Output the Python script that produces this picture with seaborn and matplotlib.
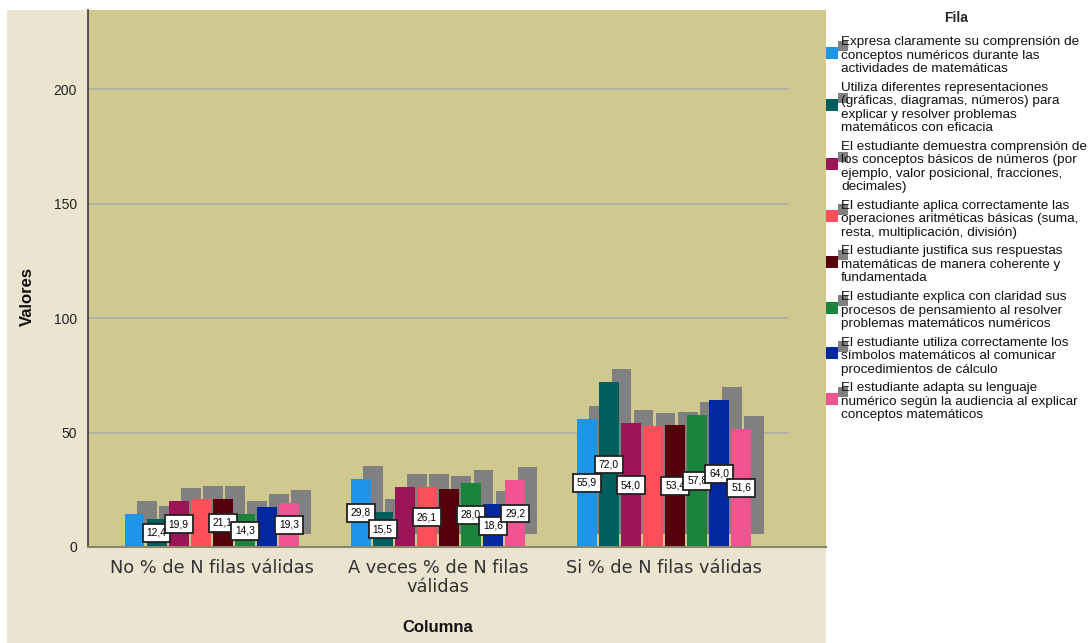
import numpy as np
import pandas as pd
import matplotlib
matplotlib.use("Agg")
import matplotlib.pyplot as plt
import seaborn as sns
from matplotlib.patches import Rectangle
from matplotlib.transforms import ScaledTranslation
from matplotlib.legend_handler import HandlerBase

# ---------------- data ----------------
columns = ["No % de N filas válidas", "A veces % de N filas\nválidas", "Si % de N filas válidas"]
rows = [
    "Expresa claramente su comprensión de\nconceptos numéricos durante las\nactividades de matemáticas",
    "Utiliza diferentes representaciones\n(gráficas, diagramas, números) para\nexplicar y resolver problemas\nmatemáticos con eficacia",
    "El estudiante demuestra comprensión de\nlos conceptos básicos de números (por\nejemplo, valor posicional, fracciones,\ndecimales)",
    "El estudiante aplica correctamente las\noperaciones aritméticas básicas (suma,\nresta, multiplicación, división)",
    "El estudiante justifica sus respuestas\nmatemáticas de manera coherente y\nfundamentada",
    "El estudiante explica con claridad sus\nprocesos de pensamiento al resolver\nproblemas matemáticos numéricos",
    "El estudiante utiliza correctamente los\nsímbolos matemáticos al comunicar\nprocedimientos de cálculo",
    "El estudiante adapta su lenguaje\nnumérico según la audiencia al explicar\nconceptos matemáticos",
]
no_vals = [14.3, 12.4, 19.9, 21.1, 21.1, 14.3, 17.4, 19.3]
aveces_vals = [29.8, 15.5, 26.1, 26.1, 25.5, 28.0, 18.6, 29.2]
si_vals = [55.9, 72.0, 54.0, 52.8, 53.4, 57.8, 64.0, 51.6]
# labels shown in the chart (others hidden by overlap in the original)
no_labeled = [False, True, True, False, True, True, False, True]
aveces_labeled = [True, True, False, True, False, True, True, True]
si_labeled = [True, True, True, False, True, True, True, True]
yticks = [0, 50, 100, 150, 200]

colors = ["#1E95E8", "#005E5C", "#9C1556", "#FF4F5A", "#55000B", "#1C833C", "#0029A0", "#F05592"]
shadow_color = "#808080"

series = [no_vals, aveces_vals, si_vals]
labeled = [no_labeled, aveces_labeled, si_labeled]
records = []
for c, vals, labs in zip(columns, series, labeled):
    for r, v, l in zip(rows, vals, labs):
        records.append({"Columna": c, "Fila": r, "Valores": v, "lab": l})
df = pd.DataFrame(records)

# ---------------- figure ----------------
sns.set_theme(style="white")
plt.rcParams["font.family"] = ["Liberation Sans", "DejaVu Sans"]

W, H = 1091, 643
fig = plt.figure(figsize=(W / 100, H / 100), dpi=100, facecolor="white")
fig.patches.append(Rectangle((7 / W, 0), (826 - 7) / W, (H - 10) / H,
                             transform=fig.transFigure, facecolor="#EBE4D0",
                             edgecolor="none", zorder=-10))
ax = fig.add_axes([88 / W, (H - 547) / H, (826 - 88) / W, (547 - 10) / H])
ax.set_facecolor("#CFC98F")

# shadows
sns.barplot(data=df, x="Columna", y="Valores", hue="Fila", hue_order=rows,
            order=columns, palette=[shadow_color] * len(rows), saturation=1,
            width=0.78, gap=0.1, errorbar=None, legend=False, linewidth=0,
            ax=ax, zorder=1)
shadow_containers = list(ax.containers)
off = ScaledTranslation(0.125, 0.13, fig.dpi_scale_trans)
for cont in shadow_containers:
    for p in cont.patches:
        p.set_transform(ax.transData + off)

# main bars
sns.barplot(data=df, x="Columna", y="Valores", hue="Fila", hue_order=rows,
            order=columns, palette=colors, saturation=1,
            width=0.78, gap=0.1, errorbar=None, legend=False, linewidth=0,
            ax=ax, zorder=2)
bar_containers = list(ax.containers)[len(shadow_containers):]

# value labels in the middle of bars
for ri, cont in enumerate(bar_containers):
    for ci, p in enumerate(cont.patches):
        if not labeled[ci][ri]:
            continue
        v = series[ci][ri]
        ax.text(p.get_x() + p.get_width() / 2, v / 2, f"{v:.1f}".replace(".", ","),
                ha="center", va="center", fontsize=7.4, color="black", zorder=5,
                family=["DejaVu Sans Condensed", "Liberation Sans Narrow", "Liberation Sans"],
                bbox=dict(boxstyle="square,pad=0.38", facecolor="white",
                          edgecolor="#222222", linewidth=1.3))

ax.set_xlim(-0.547, 2.716)
ax.set_ylim(0, 234.5)
ax.set_yticks(yticks)
for y in yticks[1:]:
    ax.axhline(y, xmin=0, xmax=(788 - 88) / (826 - 88), color="#ADADA8", lw=1.2, zorder=0.5)

for s in ["top", "right"]:
    ax.spines[s].set_visible(False)
ax.spines["left"].set_color("#3A3A3A")
ax.spines["left"].set_linewidth(1.2)
ax.spines["bottom"].set_color("#8A866A")
ax.spines["bottom"].set_linewidth(1.5)
ax.tick_params(axis="y", length=0, pad=8, labelsize=10, labelcolor="#222222")
ax.tick_params(axis="x", length=0, pad=8.5, labelsize=12.8, labelcolor="#333333")
for t in ax.get_xticklabels():
    t.set_fontfamily(["DejaVu Sans"])
    t.set_fontsize(12.8)
    t.set_linespacing(1.05)

ax.set_xlabel("Columna", fontsize=12, fontweight="bold", color="#111111")
ax.xaxis.set_label_coords((438 - 88) / (826 - 88), -(628 - 547) / (547 - 10), transform=ax.transAxes)
ax.xaxis.label.set_va("center")
ax.set_ylabel("Valores", fontsize=12, fontweight="bold", color="#111111")
ax.yaxis.set_label_coords(-(88 - 27.5) / (826 - 88), (547 - 296) / (547 - 10), transform=ax.transAxes)
ax.yaxis.label.set_va("center")


# ---------------- legend ----------------
class ShadowHandler(HandlerBase):
    def __init__(self, color):
        super().__init__()
        self.color = color

    def create_artists(self, legend, orig_handle, xdescent, ydescent, width,
                       height, fontsize, trans):
        s = 8.6
        x0 = -xdescent
        y0 = -ydescent + height / 2 - s / 2 + 2
        g = Rectangle((x0 + 8.6, y0 + 5.5), 7.5, 7.5, facecolor=shadow_color,
                      edgecolor="none", transform=trans)
        c = Rectangle((x0, y0), s, s, facecolor=self.color, edgecolor="none",
                      transform=trans)
        return [g, c]


handles = [Rectangle((0, 0), 1, 1, facecolor=c) for c in colors]
handler_map = {h: ShadowHandler(c) for h, c in zip(handles, colors)}
leg = fig.legend(handles, rows, handler_map=handler_map, loc="upper left",
                 bbox_to_anchor=(826 / W, 1 - 11 / H), frameon=False,
                 title="Fila", title_fontproperties={"weight": "bold", "size": 10},
                 fontsize=9.7, handlelength=0.89, handleheight=0.89,
                 handletextpad=0.22, labelspacing=0.5, borderpad=0,
                 borderaxespad=0)
for t in leg.get_texts():
    t.set_linespacing(1.16)
    t.set_color("#111111")
leg._legend_box.align = "center"
leg._legend_box.sep = 8.0

fig.savefig("out.png", dpi=100, facecolor="white")
